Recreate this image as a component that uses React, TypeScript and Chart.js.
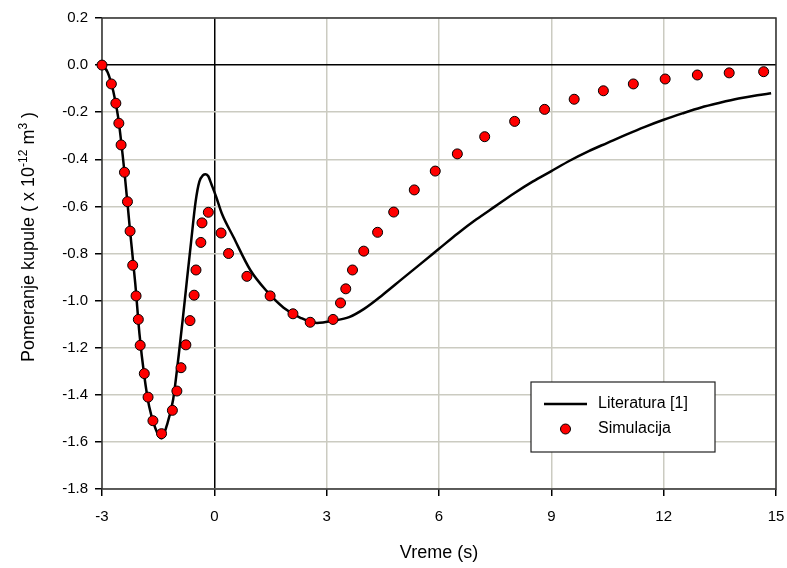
import React, { useEffect, useRef } from "react";
import { Chart, registerables } from "chart.js";
Chart.register(...registerables);

const seriesLitLabel = "Literatura [1]";
const seriesSimLabel = "Simulacija";
const xTitle = "Vreme (s)";
const yTitleParts = ["Pomeranje kupule ( x 10", "-12", " m", "3", " )"];

const simX = [-3, -2.75, -2.63, -2.55, -2.49, -2.40, -2.32, -2.25, -2.18, -2.09, -2.03, -1.98, -1.87, -1.77, -1.64, -1.41, -1.12, -1.00, -0.89, -0.76, -0.65, -0.54, -0.49, -0.36, -0.33, -0.16, 0.18, 0.38, 0.87, 1.49, 2.10, 2.56, 3.17, 3.37, 3.51, 3.69, 3.99, 4.36, 4.79, 5.34, 5.90, 6.49, 7.22, 8.02, 8.82, 9.61, 10.39, 11.19, 12.04, 12.90, 13.75, 14.67];
const simY = [0, -0.08, -0.162, -0.247, -0.339, -0.455, -0.58, -0.705, -0.85, -0.98, -1.08, -1.19, -1.31, -1.41, -1.51, -1.565, -1.466, -1.384, -1.285, -1.188, -1.085, -0.977, -0.87, -0.753, -0.67, -0.625, -0.713, -0.80, -0.897, -0.98, -1.056, -1.092, -1.08, -1.01, -0.95, -0.87, -0.79, -0.71, -0.624, -0.53, -0.45, -0.377, -0.304, -0.239, -0.188, -0.145, -0.109, -0.08, -0.059, -0.042, -0.033, -0.028];

const litX = [-3, -2.85, -2.7, -2.57, -2.39, -2.25, -2.11, -2.0, -1.87, -1.74, -1.58, -1.42, -1.25, -1.1, -0.95, -0.83, -0.73, -0.62, -0.5, -0.4, -0.3, -0.23, -0.16, -0.08, 0.05, 0.2, 0.51, 0.96, 1.40, 1.85, 2.30, 2.74, 3.2, 3.6, 4.0, 4.5, 5.0, 5.5, 6.0, 6.5, 7.0, 7.5, 8.0, 8.5, 9.0, 9.5, 10.0, 10.5, 11.0, 11.5, 12.0, 12.5, 13.0, 13.5, 14.0, 14.5, 14.87];
const litY = [0, -0.03, -0.11, -0.22, -0.47, -0.705, -0.93, -1.14, -1.32, -1.45, -1.54, -1.585, -1.52, -1.42, -1.23, -1.06, -0.91, -0.75, -0.58, -0.495, -0.467, -0.463, -0.472, -0.505, -0.56, -0.63, -0.73, -0.87, -0.96, -1.03, -1.073, -1.095, -1.085, -1.07, -1.035, -0.975, -0.91, -0.845, -0.78, -0.715, -0.655, -0.6, -0.545, -0.495, -0.45, -0.405, -0.365, -0.33, -0.295, -0.262, -0.232, -0.205, -0.18, -0.16, -0.142, -0.128, -0.12];

const xMin = -3, xMax = 15, xStep = 3;
const yMin = -1.8, yMax = 0.2, yStep = 0.2;

const FONT = "'Liberation Sans', Arial, sans-serif";
const GRID = "#cbcbc1";

const decorPlugin = {
  id: "decor",
  beforeDatasetsDraw(chart: any) {
    const { ctx, chartArea: a } = chart;
    ctx.save();
    ctx.strokeStyle = "#333";
    ctx.lineWidth = 1.5;
    ctx.strokeRect(a.left, a.top, a.right - a.left, a.bottom - a.top);
    ctx.restore();
  },
  afterDraw(chart: any) {
    const { ctx, chartArea: a } = chart;
    ctx.save();
    ctx.fillStyle = "#000";
    ctx.font = `18px ${FONT}`;
    ctx.textAlign = "center";
    ctx.textBaseline = "middle";
    ctx.fillText(xTitle, (a.left + a.right) / 2, 553);
    ctx.translate(27, 237);
    ctx.rotate(-Math.PI / 2);
    const big = `18px ${FONT}`;
    const small = `12px ${FONT}`;
    let total = 0;
    const widths = yTitleParts.map((p, i) => {
      ctx.font = i % 2 === 1 ? small : big;
      const w = ctx.measureText(p).width;
      total += w;
      return w;
    });
    let x = -total / 2;
    ctx.textAlign = "left";
    ctx.textBaseline = "alphabetic";
    yTitleParts.forEach((p, i) => {
      const sup = i % 2 === 1;
      ctx.font = sup ? small : big;
      ctx.fillText(p, x, sup ? 0 : 7);
      x += widths[i];
    });
    ctx.restore();

    ctx.save();
    const bx = 531, by = 382, bw = 184, bh = 70;
    ctx.fillStyle = "#fff";
    ctx.fillRect(bx, by, bw, bh);
    ctx.strokeStyle = "#222";
    ctx.lineWidth = 1.2;
    ctx.strokeRect(bx, by, bw, bh);
    ctx.strokeStyle = "#000";
    ctx.lineWidth = 2.5;
    ctx.beginPath();
    ctx.moveTo(544, 404);
    ctx.lineTo(587, 404);
    ctx.stroke();
    ctx.beginPath();
    ctx.arc(565.5, 429, 5, 0, Math.PI * 2);
    ctx.fillStyle = "#ff0000";
    ctx.fill();
    ctx.lineWidth = 1;
    ctx.stroke();
    ctx.fillStyle = "#000";
    ctx.font = `16px ${FONT}`;
    ctx.textAlign = "left";
    ctx.textBaseline = "middle";
    ctx.fillText(chart.data.datasets[0].label, 598, 404);
    ctx.fillText(chart.data.datasets[1].label, 598, 429);
    ctx.restore();
  },
};

export default function App() {
  const ref = useRef<HTMLCanvasElement>(null);
  useEffect(() => {
    if (!ref.current) return;
    const chart = new Chart(ref.current, {
      type: "scatter",
      data: {
        datasets: [
          {
            label: seriesLitLabel,
            data: litX.map((x, i) => ({ x, y: litY[i] })),
            showLine: true,
            borderColor: "#000",
            borderWidth: 2.5,
            pointRadius: 0,
            cubicInterpolationMode: "monotone",
            order: 2,
          } as any,
          {
            label: seriesSimLabel,
            data: simX.map((x, i) => ({ x, y: simY[i] })),
            showLine: false,
            pointRadius: 5,
            pointBackgroundColor: "#ff0000",
            pointBorderColor: "#000",
            pointBorderWidth: 1,
            clip: false,
            order: 1,
          } as any,
        ],
      },
      options: {
        animation: false,
        responsive: false,
        layout: { padding: { top: 18, right: 11, left: 0, bottom: 0 } },
        plugins: { legend: { display: false }, tooltip: { enabled: false } },
        scales: {
          x: {
            type: "linear",
            min: xMin,
            max: xMax,
            afterFit: (s: any) => { s.height = 79; s.paddingLeft = 0; s.paddingRight = 0; },
            ticks: {
              stepSize: xStep,
              color: "#000",
              font: { family: FONT, size: 15 },
              padding: 12,
              maxRotation: 0,
            },
            grid: {
              color: (c: any) => (Math.abs(c.tick?.value ?? 1) < 1e-9 ? "#000" : GRID),
              lineWidth: 1.5,
              tickColor: "#000",
              tickLength: 7,
            },
            border: { display: false },
          },
          y: {
            type: "linear",
            min: yMin,
            max: yMax,
            afterFit: (s: any) => { s.width = 102; s.paddingTop = 0; s.paddingBottom = 0; },
            ticks: {
              stepSize: yStep,
              color: "#000",
              font: { family: FONT, size: 15 },
              padding: 7,
              callback: (v: any) => (Math.abs(v) < 1e-9 ? "0.0" : Number(v).toFixed(1)),
            },
            grid: {
              color: (c: any) => (Math.abs(c.tick?.value ?? 1) < 1e-9 ? "#000" : GRID),
              lineWidth: 1.5,
              tickColor: "#000",
              tickLength: 7,
            },
            border: { display: false },
          },
        },
      },
      plugins: [decorPlugin],
    });
    return () => chart.destroy();
  }, []);
  return (
    <canvas
      ref={ref}
      width={787}
      height={568}
      style={{ position: "fixed", left: 0, top: 0, background: "#fff" }}
    />
  );
}
